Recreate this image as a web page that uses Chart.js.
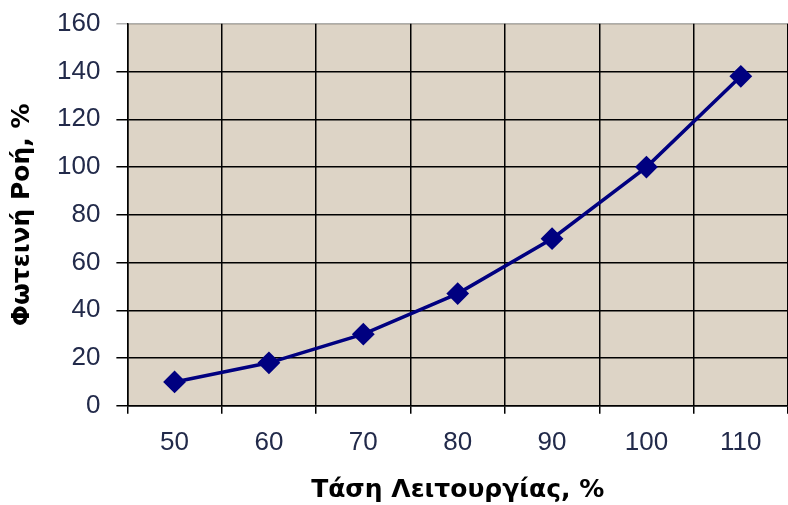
<!DOCTYPE html>
<html>
<head>
<meta charset="utf-8">
<script src="https://cdn.jsdelivr.net/npm/chart.js@4"></script>
<style>
  html, body { margin: 0; padding: 0; background: #fff; overflow: hidden; }
</style>
</head>
<body>
<canvas id="fluxChart" width="800" height="505"></canvas>
<script>
// =============================
// DATA
// =============================
const voltages = ['50', '60', '70', '80', '90', '100', '110'];
const luminousFlux = [10, 18, 30, 47, 70, 100, 138];
const yTicks = [0, 20, 40, 60, 80, 100, 120, 140, 160];

// =============================
// PLOT BACKGROUND
// =============================
const plotBackground = {
  id: 'plotBackground',
  beforeDraw(chart) {
    const { ctx, chartArea } = chart;
    ctx.save();
    ctx.fillStyle = '#ddd4c6';
    ctx.fillRect(chartArea.left, chartArea.top, chartArea.right - chartArea.left, chartArea.bottom - chartArea.top);
    ctx.restore();
  }
};

const tickFont = { family: 'Liberation Sans, Arial, sans-serif', size: 26 };
const yTickFont = { family: 'Liberation Sans, Arial, sans-serif', size: 26, lineHeight: 0.6 };
const titleFont = { family: 'DejaVu Sans, Verdana, sans-serif', size: 25, weight: 'bold' };

new Chart(document.getElementById('fluxChart'), {
  type: 'line',
  data: {
    labels: voltages,
    datasets: [{
      data: luminousFlux,
      borderColor: '#000080',
      backgroundColor: '#000080',
      borderWidth: 3.5,
      tension: 0,
      pointStyle: 'rectRot',
      pointRadius: 10,
      pointBorderWidth: 2,
      pointBorderColor: '#000080',
      pointBackgroundColor: '#000080'
    }]
  },
  options: {
    responsive: false,
    animation: false,
    layout: { padding: { top: 20, left: 7, right: 8, bottom: 0 } },
    plugins: { legend: { display: false }, tooltip: { enabled: false } },
    scales: {
      x: {
        offset: true,
        grid: { offset: true, color: '#000', lineWidth: 1.5, tickLength: 8 },
        border: { color: '#000', width: 1.5 },
        ticks: { color: '#222a4a', font: tickFont, padding: 13, autoSkip: false, maxRotation: 0 },
        title: { display: true, text: 'Τάση Λειτουργίας, %', color: '#000', font: titleFont, padding: { top: 4, bottom: 0 } }
      },
      y: {
        min: 0,
        max: 160,
        afterBuildTicks(axis) { axis.ticks = yTicks.map(v => ({ value: v })); },
        grid: {
          color: ctx => (ctx.tick && ctx.tick.value === 160 ? 'rgba(0,0,0,0.3)' : '#000'),
          lineWidth: 1.5,
          tickLength: 11
        },
        border: { color: '#000', width: 1.5 },
        ticks: { color: '#222a4a', font: yTickFont, padding: 16, autoSkip: false },
        title: { display: true, text: 'Φωτεινή Ροή, %', color: '#000', font: titleFont, padding: { top: 0, bottom: 4 } }
      }
    }
  },
  plugins: [plotBackground]
});
</script>
</body>
</html>
